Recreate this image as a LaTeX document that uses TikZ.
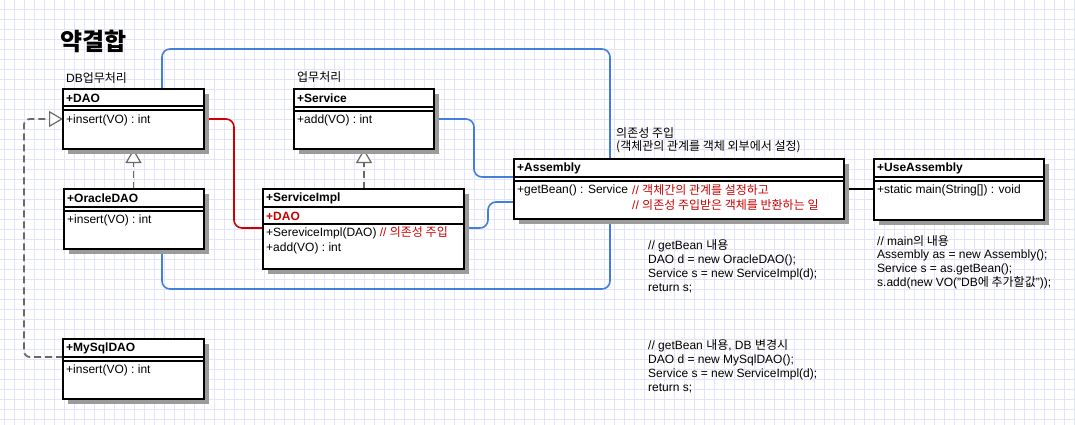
\documentclass[tikz,border=0pt]{standalone}
\usepackage{fontspec}
\setmainfont{Liberation Sans}
\newfontfamily\kr{Noto Sans CJK KR}
\usetikzlibrary{calc,arrows.meta,shadows}
\definecolor{gridc}{RGB}{228,228,248}
\definecolor{lblue}{RGB}{66,126,220}
\definecolor{lred}{RGB}{204,0,0}
\definecolor{dgray}{RGB}{105,105,105}
\definecolor{shad}{RGB}{155,155,155}
\newcommand\K[1]{{\kr #1}}
\pgfdeclarelayer{grid}
\pgfdeclarelayer{bg}
\pgfsetlayers{grid,bg,main}
\newcommand\umlcls[6]{%
  \node[clsbox, minimum width=#4pt, minimum height=#5pt] (#1) at (#2,#3) {};
  \draw[sepline] ($(#1.north west)+(0,#6)$) -- ($(#1.north east)+(0,#6)$);
  \draw[sepline] ($(#1.north west)+(0,#6+4)$) -- ($(#1.north east)+(0,#6+4)$);
}
\begin{document}
\begin{tikzpicture}[x=1pt,y=-1pt,
  clsbox/.style={draw, line width=1.6pt, fill=white, inner sep=0pt, outer sep=0pt, anchor=north west,
     general shadow={fill=shad, shadow xshift=5pt, shadow yshift=-5pt}},
  sepline/.style={line width=1.3pt},
  txt/.style={anchor=west, inner sep=0pt, font=\fontsize{12}{14}\selectfont},
  btxt/.style={anchor=west, inner sep=0pt, font=\bfseries\fontsize{12}{14}\selectfont},
  blueline/.style={draw=lblue, line width=1.6pt, rounded corners=8pt},
  redline/.style={draw=lred, line width=1.6pt, rounded corners=8pt},
  realize/.style={draw=dgray, line width=1.8pt, dash pattern=on 7pt off 4pt,
     -{Triangle[length=14pt,width=16pt,fill=white,line width=1.2pt]}},
]
\useasboundingbox (0,0) rectangle (1075,425);
\begin{pgfonlayer}{grid}
\fill[white] (0,0) rectangle (1075,425);
\foreach \gx in {4.5,14.5,...,1074.5} \draw[gridc, line width=1pt] (\gx,0) -- (\gx,425);
\foreach \gy in {9.5,19.5,...,424.5} \draw[gridc, line width=1pt] (0,\gy) -- (1075,\gy);
\end{pgfonlayer}

% title and labels
\node[anchor=west, inner sep=0pt, font=\kr\bfseries\fontsize{24}{28}\selectfont] (title) at (60,41) {약결합};
\node[txt] (lbldb) at (66,78) {DB\K{업무처리}};
\node[txt] (lblsv) at (297,77) {\K{업무처리}};
\node[txt] (lbldi1) at (616,133) {\K{의존성 주입}};
\node[txt] (lbldi2) at (616,147) {\K{(객체관의 관계를 객체 외부에서 설정)}};

% classes
\umlcls{dao}{63}{89}{141}{60}{17}
\umlcls{service}{294}{89}{140}{60}{18}
\umlcls{oracle}{64}{189}{140}{60}{18}
\umlcls{mysql}{63}{339}{141}{60}{18}
\umlcls{assembly}{514}{159}{330}{60}{18}
\umlcls{useasm}{874}{159}{170}{61}{18}
\node[clsbox, minimum width=201pt, minimum height=80pt] (impl) at (263,189) {};
\draw[sepline] ($(impl.north west)+(0,18)$) -- ($(impl.north east)+(0,18)$);
\draw[sepline] ($(impl.north west)+(0,35)$) -- ($(impl.north east)+(0,35)$);

% class texts
\node[btxt] (daoh) at (66,98) {+DAO};
\node[txt] (daom) at (66,120) {+insert(VO) : int};
\node[btxt] (svh) at (297,98) {+Service};
\node[txt] (svm) at (297,120) {+add(VO) : int};
\node[btxt] (orh) at (67,198) {+OracleDAO};
\node[txt] (orm) at (67,220) {+insert(VO) : int};
\node[btxt] (myh) at (66,348) {+MySqlDAO};
\node[txt] (mym) at (66,370) {+insert(VO) : int};
\node[btxt] (imh) at (266,198) {+ServiceImpl};
\node[btxt, text=lred] (ima) at (266,216) {+DAO};
\node[txt] (imm1) at (266,233) {+SereviceImpl(DAO) {\color{lred}// \K{의존성 주입}}};
\node[txt] (imm2) at (266,248) {+add(VO) : int};
\node[btxt] (ash) at (517,168) {+Assembly};
\node[txt] (asm) at (517,190) {+getBean() : Service};
\node[txt, text=lred] (asc1) at (632,190) {// \K{객체간의 관계를 설정하고}};
\node[txt, text=lred] (asc2) at (632,205) {// \K{의존성 주입받은 객체를 반환하는 일}};
\node[btxt] (uah) at (877,168) {+UseAssembly};
\node[txt] (uam) at (877,190) {+static main(String[]) : void};

% code notes
\node[txt] (c1a) at (648,246) {// getBean \K{내용}};
\node[txt] (c1b) at (648,260) {DAO d = new OracleDAO();};
\node[txt] (c1c) at (648,274) {Service s = new ServiceImpl(d);};
\node[txt] (c1d) at (648,288) {return s;};
\node[txt] (c2a) at (648,346) {// getBean \K{내용}, DB \K{변경시}};
\node[txt] (c2b) at (648,360) {DAO d = new MySqlDAO();};
\node[txt] (c2c) at (648,374) {Service s = new ServiceImpl(d);};
\node[txt] (c2d) at (648,388) {return s;};
\node[txt] (m1) at (877,241) {// main\K{의 내용}};
\node[txt] (m2) at (877,255) {Assembly as = new Assembly();};
\node[txt] (m3) at (877,269) {Service s = as.getBean();};
\node[txt] (m4) at (877,283) {s.add(new VO("DB\K{에 추가할값}"));};

% connectors
\begin{pgfonlayer}{bg}
\draw[blueline] ($(dao.north west)+(99,0)$) |- (610,49) |- ($(oracle.south west)+(98,40)$) -- ($(oracle.south west)+(98,0)$);
\draw[blueline] ($(service.north east)+(0,30)$) -- ++(40,0) |- ($(assembly.north west)+(0,18)$);
\draw[blueline] ($(impl.north east)+(0,39)$) -- ++(24,0) |- ($(assembly.north west)+(0,43)$);
\draw[redline] ($(dao.north east)+(0,30)$) -- ++(30,0) |- ($(impl.north west)+(0,39)$);
\draw[line width=1.6pt] ($(assembly.north east)+(0,30)$) -- ($(useasm.north west)+(0,30)$);
\draw[realize] (oracle.north -| dao.south) -- (dao.south);
\draw[realize] (impl.north -| service.south) -- (service.south);
\draw[realize, rounded corners=6pt] ($(mysql.north west)+(0,18)$) -- ++(-39,0) |- ($(dao.north west)+(0,30)$);
\end{pgfonlayer}
\end{tikzpicture}
\end{document}
